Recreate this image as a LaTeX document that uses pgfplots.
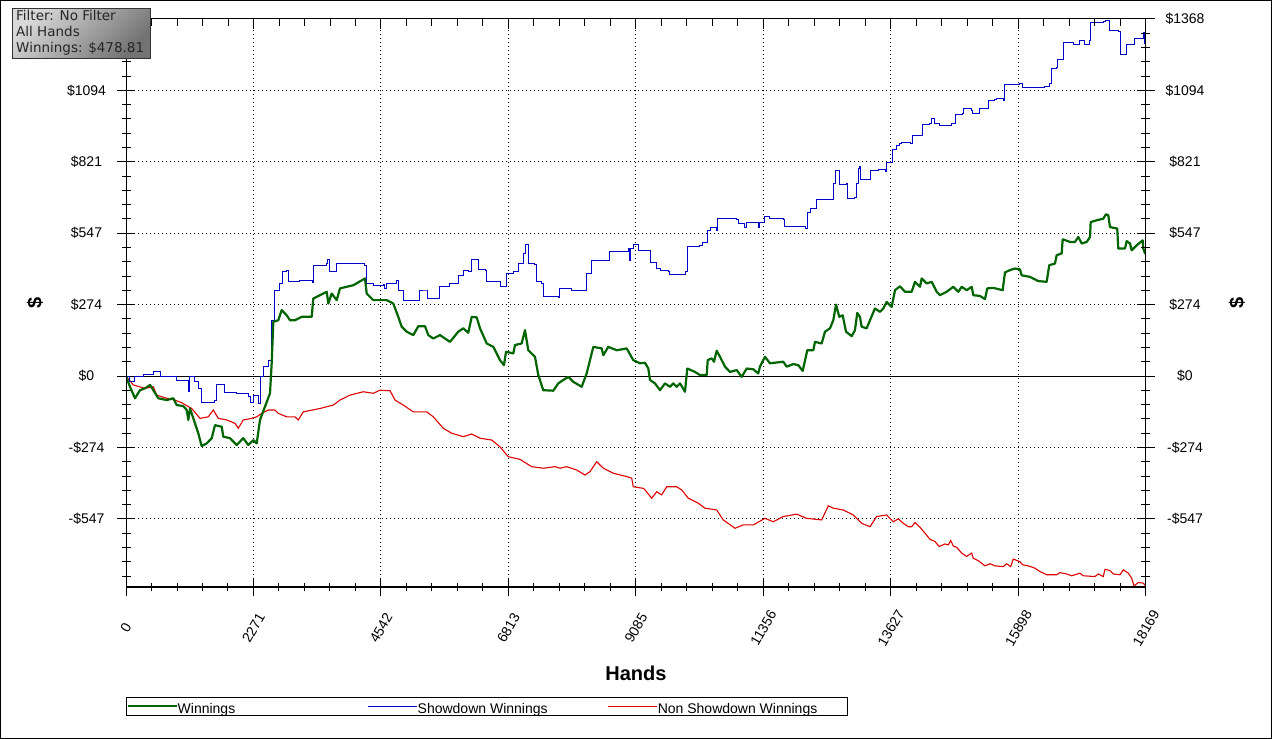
\documentclass[border=0pt]{standalone}
\usepackage{pgfplots}
\pgfplotsset{compat=1.18}
\usepackage{fontspec}
\setmainfont{Liberation Sans}
\newfontfamily\boxfont{DejaVu Sans}
\definecolor{wgreen}{RGB}{0,100,0}
\definecolor{sdblue}{RGB}{0,0,200}
\definecolor{nsred}{RGB}{220,0,0}
\newcommand\tfont{\fontsize{14}{16}\selectfont}
\begin{document}
\begin{tikzpicture}
\useasboundingbox (0,0) rectangle (1272pt,739pt);
\fill[white] (0,0) rectangle (1272pt,739pt);
\begin{axis}[
  at={(126pt,152pt)}, anchor=south west, scale only axis,
  width=1020pt, height=568pt,
  xmin=0, xmax=18169, ymin=-808, ymax=1368,
  scaled x ticks=false, scaled y ticks=false,
  xtick={0,2271.125,4542.25,6813.375,9084.5,11355.625,13626.75,15897.875,18169},
  xticklabels={0,2271,4542,6813,9085,11356,13627,15898,18169},
  ytick={-547.2,-273.6,0,273.6,547.2,820.8,1094.4,1368},
  yticklabels={-\$547,-\$274,\$0,\$274,\$547,\$821,\$1094,\$1368},
  minor xtick={0,454.225,...,18169},
  minor ytick={-766.08,-711.36,...,1368},
  xtick pos=bottom, ytick pos=left,
  tick align=center, major tick length=18pt, minor tick length=9pt,
  tick style={black, line width=1pt},
  axis line style={black, line width=1pt},
  grid=major,
  major grid style={black, line width=1pt, dash pattern=on 1pt off 3pt},
  tick label style={font=\tfont, black},
  yticklabel style={anchor=center, xshift=-30.5pt},
  xticklabel style={anchor=center, rotate=60},
  xticklabel shift=32pt,
  xlabel={Hands}, ylabel={\$},
  every axis x label/.style={at={(axis description cs:0.5,-0.1514)}, anchor=center, font=\fontsize{20}{24}\selectfont\bfseries},
  every axis y label/.style={at={(axis description cs:-0.0892,0.5)}, anchor=center, rotate=90, font=\fontsize{20}{24}\selectfont\bfseries},
  legend columns=3, reverse legend, legend cell align=left,
  legend style={at={(0,-0.19366)}, anchor=north west, draw=black, line width=1pt,
    inner sep=0pt, column sep=0pt, row sep=0pt, nodes={inner sep=0pt}, font=\tfont},
  legend image code/.code={\path (0pt,0pt) -- (49pt,0pt); \draw[#1] (8pt,0pt) -- (44pt,0pt);},
]
\addplot[black, line width=1pt, forget plot] coordinates {(0,0) (18169,0)};
\addplot[nsred, line width=1.1pt] coordinates {
(0,0)(130,-34)(338,-47)(486,-41)(547,-73)(725,-85)(873,-92)(992,-102)(1170,-124)(1318,-162)(1466,-156)(1555,-130)(1644,-162)(1794,-168)(1942,-181)(2000,-200)(2089,-168)(2239,-162)(2328,-156)(2417,-143)(2535,-130)(2654,-130)(2713,-143)(2862,-156)(3010,-156)(3069,-168)(3158,-137)(3456,-124)(3693,-111)(3812,-92)(3990,-73)(4227,-60)(4405,-66)(4524,-54)(4703,-56)(4792,-92)(4939,-111)(5118,-137)(5356,-137)(5474,-156)(5652,-200)(5802,-219)(6008,-232)(6158,-222)(6306,-238)(6514,-245)(6662,-271)(6810,-309)(7018,-319)(7227,-347)(7433,-353)(7642,-347)(7731,-353)(7850,-347)(8028,-360)(8176,-379)(8265,-366)(8384,-328)(8502,-353)(8680,-372)(8919,-385)(9008,-391)(9036,-424)(9215,-430)(9245,-436)(9364,-468)(9453,-443)(9542,-455)(9631,-424)(9809,-424)(9898,-436)(10016,-468)(10194,-487)(10313,-506)(10522,-513)(10639,-551)(10848,-583)(10996,-570)(11174,-570)(11382,-545)(11530,-558)(11708,-538)(11947,-529)(12125,-545)(12392,-551)(12510,-497)(12599,-506)(12777,-513)(12955,-532)(13104,-564)(13253,-577)(13372,-538)(13550,-532)(13668,-558)(13757,-547)(13846,-564)(13935,-577)(13995,-577)(14054,-561)(14143,-579)(14232,-602)(14321,-625)(14410,-634)(14487,-653)(14588,-643)(14647,-647)(14690,-630)(14737,-651)(14797,-656)(14886,-678)(14975,-691)(15064,-678)(15093,-698)(15181,-707)(15301,-727)(15390,-719)(15479,-727)(15627,-730)(15687,-719)(15759,-730)(15805,-701)(15924,-711)(15972,-723)(16072,-727)(16192,-736)(16281,-749)(16400,-761)(16578,-761)(16637,-753)(16756,-758)(16845,-765)(16993,-755)(17052,-765)(17260,-768)(17319,-758)(17408,-768)(17439,-740)(17527,-745)(17586,-758)(17706,-761)(17765,-742)(17854,-755)(17914,-774)(17955,-804)(18032,-791)(18121,-793)(18169,-806)};
\addlegendentry{\makebox[190pt][l]{Non Showdown Winnings\rule[-7pt]{0pt}{23pt}}}
\addplot[sdblue, line width=1pt, const plot] coordinates {
(0,0)(71,-22)(160,-3)(308,7)(486,16)(606,-3)(873,-3)(903,-15)(1081,-18)(1110,-60)(1140,-3)(1229,-22)(1288,-47)(1348,-102)(1585,-92)(1616,-31)(1733,-31)(1746,-64)(1972,-66)(2178,-79)(2209,-102)(2268,-73)(2357,-104)(2387,-3)(2446,36)(2535,61)(2595,214)(2654,329)(2743,355)(2791,399)(2862,406)(2891,361)(3099,367)(3326,357)(3336,425)(3575,431)(3586,447)(3621,399)(3753,431)(4257,425)(4288,355)(4405,348)(4578,352)(4613,336)(4644,355)(4822,365)(4850,329)(4939,291)(5178,291)(5224,326)(5356,326)(5367,297)(5504,297)(5593,342)(5771,355)(5919,386)(6008,403)(6097,399)(6158,448)(6258,448)(6275,408)(6395,406)(6425,361)(6573,361)(6674,344)(6751,344)(6769,393)(6899,399)(6988,431)(7077,470)(7125,504)(7166,431)(7285,429)(7316,361)(7405,355)(7433,303)(7700,301)(7713,336)(7939,329)(8146,329)(8194,393)(8295,441)(8591,441)(8609,476)(8799,479)(8947,489)(8960,444)(8978,489)(9036,505)(9125,482)(9275,482)(9334,437)(9423,434)(9453,414)(9524,403)(9660,399)(9678,390)(9809,390)(9975,399)(9998,495)(10135,495)(10224,501)(10273,510)(10344,510)(10362,559)(10403,569)(10474,571)(10510,559)(10533,603)(10878,600)(10907,584)(11026,569)(11056,587)(11234,590)(11263,571)(11293,590)(11365,612)(11459,612)(11471,603)(11708,600)(11721,574)(12107,565)(12136,625)(12184,642)(12273,642)(12291,677)(12588,677)(12611,737)(12647,788)(12688,788)(12706,735)(12838,737)(12848,680)(12985,686)(13016,737)(13044,795)(13074,801)(13087,753)(13222,753)(13253,786)(13400,791)(13520,782)(13538,820)(13639,820)(13657,867)(13728,884)(13787,890)(13817,894)(13977,890)(14013,922)(14173,920)(14184,963)(14321,967)(14352,986)(14410,967)(14499,960)(14708,967)(14767,1003)(14904,1005)(14927,1024)(15064,1018)(15082,1005)(15181,1005)(15212,1024)(15342,1027)(15360,1056)(15479,1060)(15509,1065)(15627,1056)(15657,1116)(15924,1120)(15972,1107)(16370,1110)(16459,1120)(16489,1180)(16566,1184)(16589,1213)(16696,1216)(16708,1277)(16845,1277)(16874,1269)(16981,1286)(17082,1269)(17159,1286)(17184,1353)(17408,1358)(17456,1362)(17497,1362)(17515,1324)(17675,1320)(17706,1231)(17813,1231)(17825,1269)(17955,1269)(17973,1295)(18110,1295)(18121,1318)(18139,1273)(18169,1267)};
\addlegendentry{\makebox[190pt][l]{Showdown Winnings\rule[-7pt]{0pt}{23pt}}}
\addplot[wgreen, line width=2.2pt, line join=round] coordinates {
(0,0)(71,-41)(160,-85)(249,-54)(338,-47)(428,-34)(486,-54)(575,-85)(725,-92)(843,-85)(903,-111)(1021,-115)(1081,-130)(1110,-168)(1140,-124)(1229,-181)(1288,-219)(1348,-268)(1437,-258)(1527,-238)(1585,-188)(1705,-194)(1733,-232)(1853,-238)(1972,-264)(2089,-238)(2178,-264)(2268,-245)(2328,-258)(2387,-168)(2476,-117)(2565,-66)(2595,49)(2624,208)(2713,214)(2773,253)(2862,233)(2921,214)(3010,214)(3130,227)(3308,227)(3336,297)(3456,310)(3575,323)(3604,278)(3664,316)(3753,291)(3812,336)(4049,348)(4257,374)(4288,316)(4405,291)(4644,291)(4761,278)(4850,227)(4911,189)(5000,170)(5118,157)(5207,191)(5326,191)(5385,157)(5474,144)(5593,157)(5771,131)(5919,170)(6008,183)(6097,166)(6158,227)(6247,225)(6306,183)(6425,125)(6543,112)(6662,61)(6733,42)(6769,93)(6899,87)(6929,119)(7048,125)(7107,176)(7166,99)(7285,74)(7344,4)(7433,-54)(7611,-56)(7700,-28)(7789,-15)(7879,-3)(7968,-22)(8117,-41)(8206,10)(8324,112)(8473,106)(8502,80)(8591,112)(8741,99)(8919,106)(9036,61)(9156,49)(9245,51)(9304,29)(9334,-15)(9423,-28)(9512,-54)(9601,-28)(9690,-41)(9749,-28)(9809,-41)(9868,-28)(9957,-60)(9998,29)(10135,16)(10224,4)(10344,4)(10362,61)(10433,68)(10474,55)(10522,97)(10581,74)(10670,36)(10759,16)(10878,23)(10967,-3)(11056,29)(11174,26)(11263,10)(11293,36)(11382,74)(11471,49)(11708,55)(11769,36)(11886,46)(11975,42)(12054,20)(12136,99)(12243,99)(12273,131)(12392,125)(12451,170)(12540,183)(12599,214)(12647,274)(12706,227)(12766,233)(12825,170)(12927,153)(12985,176)(13026,242)(13074,227)(13104,189)(13193,183)(13253,214)(13341,259)(13430,246)(13490,259)(13550,284)(13639,265)(13698,329)(13787,344)(13876,323)(13995,323)(14054,361)(14143,342)(14173,374)(14263,355)(14352,361)(14441,323)(14499,310)(14619,323)(14737,342)(14826,323)(14886,342)(14975,329)(15064,342)(15093,310)(15212,307)(15301,295)(15342,336)(15449,338)(15616,329)(15657,397)(15746,406)(15835,412)(15924,409)(15955,386)(16103,380)(16251,364)(16400,361)(16446,425)(16548,431)(16578,463)(16667,470)(16685,524)(16815,514)(16904,514)(16963,533)(17024,508)(17113,514)(17172,533)(17184,590)(17291,597)(17408,603)(17456,620)(17497,616)(17527,571)(17657,565)(17675,489)(17795,489)(17825,517)(17884,508)(17914,482)(18003,501)(18110,520)(18121,489)(18151,470)(18169,479)};
\addlegendentry{\makebox[190pt][l]{Winnings\rule[-7pt]{0pt}{23pt}}}
\end{axis}
% right axis ticks and labels
\begin{axis}[
  at={(126pt,152pt)}, anchor=south west, scale only axis,
  width=1020pt, height=568pt,
  xmin=0, xmax=18169, ymin=-808, ymax=1368,
  scaled x ticks=false, scaled y ticks=false,
  xtick=\empty,
  ytick={-547.2,-273.6,0,273.6,547.2,820.8,1094.4,1368},
  yticklabels={-\$547,-\$274,\$0,\$274,\$547,\$821,\$1094,\$1368},
  minor ytick={-766.08,-711.36,...,1368},
  ytick pos=right, yticklabel pos=right,
  tick align=center, major tick length=18pt, minor tick length=9pt,
  tick style={black, line width=1pt},
  axis line style={black, line width=1pt},
  tick label style={font=\tfont, black},
  yticklabel style={anchor=center, xshift=30pt},
  ylabel={\$},
  every axis y label/.style={at={(axis description cs:1.0892,0.5)}, anchor=center, rotate=90, font=\fontsize{20}{24}\selectfont\bfseries},
]
\end{axis}
% top ticks
\begin{axis}[
  at={(126pt,152pt)}, anchor=south west, scale only axis,
  width=1020pt, height=568pt,
  xmin=0, xmax=18169, ymin=-808, ymax=1368,
  scaled x ticks=false, scaled y ticks=false,
  ytick=\empty,
  xtick={0,2271.125,4542.25,6813.375,9084.5,11355.625,13626.75,15897.875,18169},
  xticklabels={},
  minor xtick={0,454.225,...,18169},
  xtick pos=top,
  tick align=inside, major tick length=10pt, minor tick length=7pt,
  tick style={black, line width=1pt},
  axis line style={black, line width=1pt},
]
\end{axis}
% filter box
\shade[shading=axis, top color=black!15, bottom color=black!55, shading angle=45] (12.5pt,680.7pt) rectangle (150pt,730.7pt);
\draw[black!80, line width=1pt] (12.5pt,680.7pt) rectangle (150pt,730.7pt);
\node[anchor=base west, inner sep=0pt, font=\boxfont\fontsize{13.5}{15}\selectfont, text=black!85] at (16pt,718.6pt) {Filter: No Filter};
\node[anchor=base west, inner sep=0pt, font=\boxfont\fontsize{13.5}{15}\selectfont, text=black!85] at (16pt,702.4pt) {All Hands};
\node[anchor=base west, inner sep=0pt, font=\boxfont\fontsize{13.5}{15}\selectfont, text=black!85] at (16pt,686.2pt) {Winnings: \$478.81};
\draw[black, line width=1pt] (0.5pt,0.5pt) rectangle (1271.5pt,738.5pt);
\end{tikzpicture}
\end{document}
